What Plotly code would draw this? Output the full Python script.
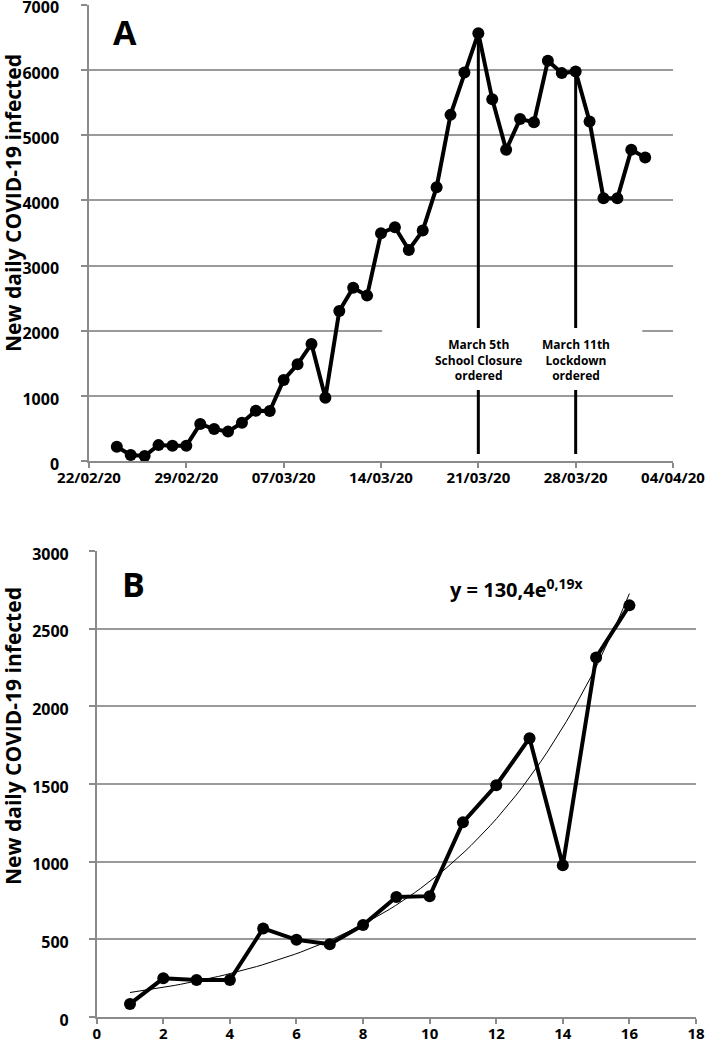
import plotly.graph_objects as go
import pandas as pd
import numpy as np

W, H = 706, 1047

# ---------------- Panel A data ----------------
DATES_A = pd.date_range("2020-02-24", "2020-04-02", freq="D").strftime("%Y-%m-%d").tolist()
CASES_A = [224, 97, 81, 248, 240, 240, 572, 495, 455, 592, 776, 770, 1247, 1487,
           1799, 975, 2305, 2662, 2540, 3497, 3589, 3241, 3537, 4202, 5311, 5960,
           6564, 5552, 4775, 5246, 5199, 6140, 5951, 5976, 5209, 4034, 4034, 4775, 4657]
X_TICKS_A = ["2020-02-22", "2020-02-29", "2020-03-07", "2020-03-14",
             "2020-03-21", "2020-03-28", "2020-04-04"]
EVENT_DATES = ["2020-03-21", "2020-03-28"]
EVENT_LABELS = ["March 5th<br>School Closure<br>ordered", "March 11th<br>Lockdown<br>ordered"]

# ---------------- Panel B data ----------------
DAYS_B = list(range(1, 17))
CASES_B = [84, 249, 238, 238, 570, 497, 468, 592, 773, 778, 1253, 1492, 1795, 977, 2315, 2650]
TREND_A, TREND_B = 130.4, 0.19   # fitted exponential shown on the chart

FONT = "Open Sans"
GRID = "#9a9a9a"
AXIS = "#8a8a8a"


def px_x(p):
    return p / W


def px_y(p):
    return 1 - p / H


fig = go.Figure()

# event lines (panel A), interrupted by the label box
BOX_TOP, BOX_BOTTOM, LINE_BOTTOM = 2044, 1094, 112
for d in EVENT_DATES:
    top = CASES_A[DATES_A.index(d)]
    fig.add_trace(go.Scatter(x=[d, d, None, d, d], y=[top, BOX_TOP, None, BOX_BOTTOM, LINE_BOTTOM],
                             mode="lines", line=dict(color="black", width=3),
                             xaxis="x", yaxis="y", showlegend=False, hoverinfo="skip"))

fig.add_trace(go.Scatter(x=DATES_A, y=CASES_A, mode="lines+markers",
                         line=dict(color="black", width=4),
                         marker=dict(color="black", size=12),
                         xaxis="x", yaxis="y", showlegend=False))

# panel B trend line from the printed fit
xt = np.linspace(DAYS_B[0], DAYS_B[-1], 80)
fig.add_trace(go.Scatter(x=xt, y=TREND_A * np.exp(TREND_B * xt), mode="lines",
                         line=dict(color="black", width=1),
                         xaxis="x2", yaxis="y2", showlegend=False, hoverinfo="skip"))
fig.add_trace(go.Scatter(x=DAYS_B, y=CASES_B, mode="lines+markers",
                         line=dict(color="black", width=4),
                         marker=dict(color="black", size=12),
                         xaxis="x2", yaxis="y2", showlegend=False))

tickfont = dict(family=FONT, size=15, color="black", weight="bold")
ytickfont = dict(family=FONT, size=16, color="black", weight="bold")

common_x = dict(showline=True, linecolor=AXIS, linewidth=1.5, ticks="outside",
                ticklen=5, tickcolor=AXIS, tickwidth=1.5, showgrid=False,
                zeroline=False, tickfont=tickfont, ticklabelstandoff=-3,
                automargin=False, ticklabeloverflow="allow")
common_y = dict(showline=True, linecolor=AXIS, linewidth=1.5, ticks="outside",
                ticklen=6, tickcolor=AXIS, tickwidth=1.5, showgrid=True,
                gridcolor=GRID, gridwidth=2, zeroline=False, tickfont=ytickfont,
                ticklabelshift=3, automargin=False, ticklabeloverflow="allow")

fig.update_layout(
    template="none",
    width=W, height=H,
    margin=dict(l=0, r=0, t=0, b=0, pad=0),
    paper_bgcolor="white", plot_bgcolor="white",
    xaxis=dict(domain=[px_x(89), px_x(673)], anchor="y", type="date",
               range=["2020-02-22", "2020-04-04"], tickvals=X_TICKS_A,
               tickformat="%d/%m/%y", **common_x),
    yaxis=dict(domain=[px_y(461.3), px_y(4.7)], anchor="x", range=[0, 7000],
               tickvals=[0, 1000, 2000, 3000, 4000, 5000, 6000, 7000],
               ticklabelstandoff=19, **common_y),
    xaxis2=dict(domain=[px_x(96.7), px_x(696)], anchor="y2", range=[0, 18],
                tickvals=list(range(0, 19, 2)), **common_x),
    yaxis2=dict(domain=[px_y(1017), px_y(551)], anchor="x2", range=[0, 3000],
                tickvals=[0, 500, 1000, 1500, 2000, 2500, 3000],
                ticklabelstandoff=17, **common_y),
)

# white box behind the event labels (covers the gridline)
fig.add_shape(type="rect", xref="x", yref="y", x0="2020-03-14 02:00", x1="2020-04-01 19:00",
              y0=BOX_BOTTOM, y1=BOX_TOP, fillcolor="white", line=dict(width=0), layer="between")

for d, lab in zip(EVENT_DATES, EVENT_LABELS):
    fig.add_annotation(x=d, y=1560, xref="x", yref="y", text=lab, showarrow=False,
                       xanchor="center", yanchor="middle",
                       font=dict(family=FONT, size=12, color="black", weight="bold"),
                       align="center")


def paper_text(x, y, text, size, angle=0):
    fig.add_annotation(x=px_x(x), y=px_y(y), xref="paper", yref="paper", text=text,
                       textangle=angle, showarrow=False, xanchor="center", yanchor="middle",
                       font=dict(family=FONT, size=size, color="black", weight="bold"))


# panel letters
paper_text(125, 32, "A", 34)
paper_text(133, 584, "B", 34)

# y-axis titles
paper_text(13, 203, "New daily COVID-19 infected", 21, angle=-90)
paper_text(13, 736, "New daily COVID-19 infected", 21, angle=-90)

# equation
paper_text(516, 588, "y = 130,4e<sup>0,19x</sup>", 20)

fig.write_html("out.html", post_script="document.body.style.margin='0';",
               config={"displayModeBar": False})
